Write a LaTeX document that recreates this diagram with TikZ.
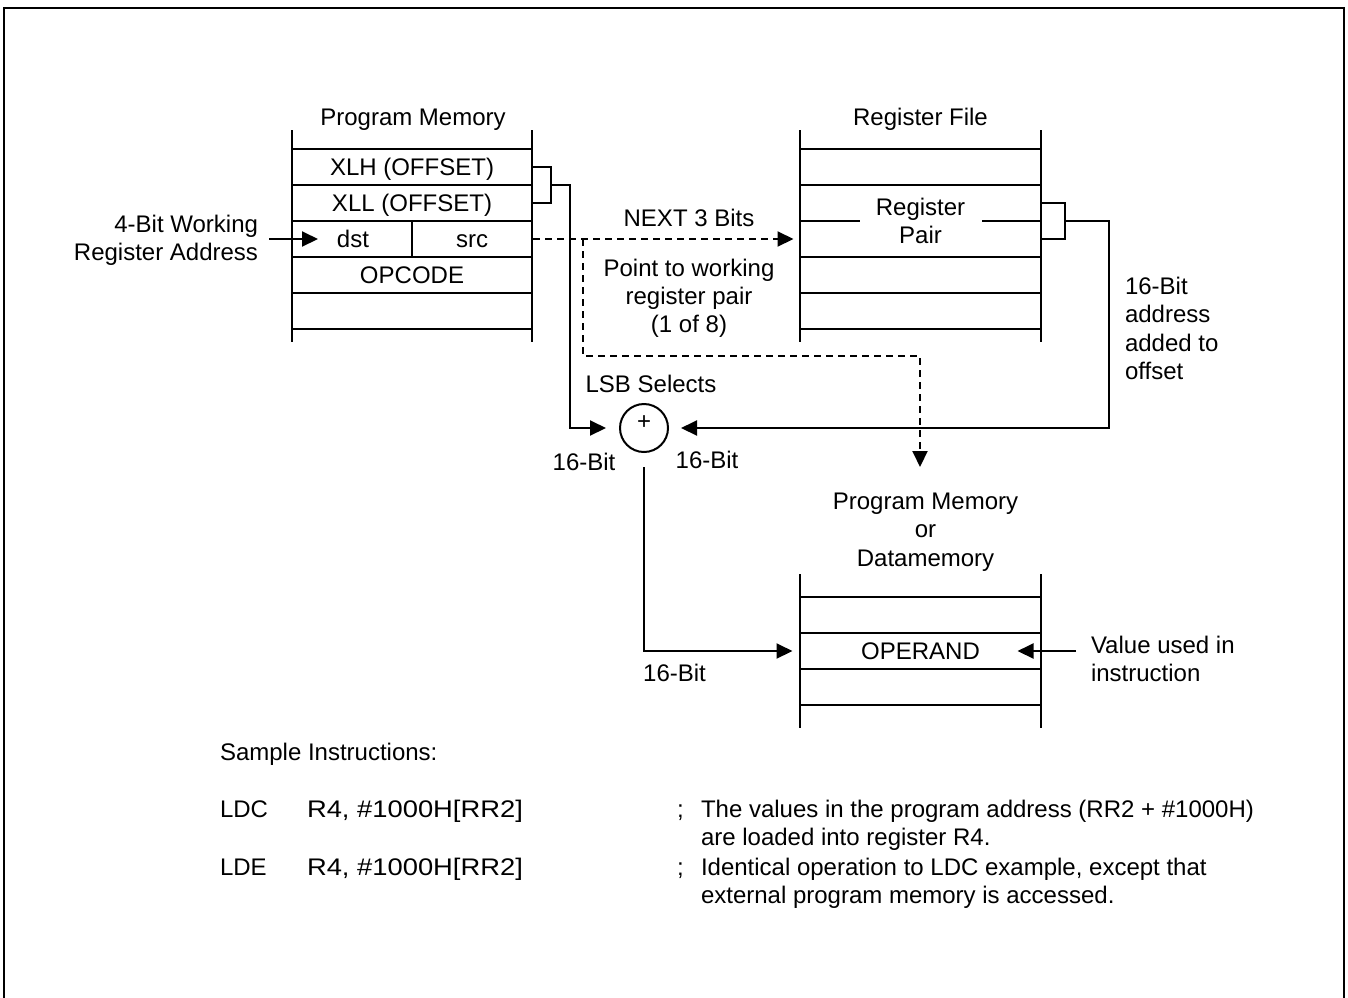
\documentclass[tikz,border=0pt]{standalone}
\usepackage{fontspec}
\setmainfont{Liberation Sans}
\usepackage{tikz}
\usetikzlibrary{arrows.meta, calc}

\begin{document}
\begin{tikzpicture}[x=0.5pt, y=-0.5pt, line width=1pt,
    font=\fontsize{12}{14}\selectfont,
    >={Triangle[length=8pt, width=7.5pt]},
    txt/.style={anchor=base, inner sep=0pt},
    lbl/.style={anchor=base west, inner sep=0pt},
    rlbl/.style={anchor=base east, inner sep=0pt},
    cell/.style={minimum width=120pt, minimum height=18pt, inner sep=0pt,
                 text height=8.6pt, text depth=0pt},
    half/.style={cell, minimum width=60pt},
    dsh/.style={dash pattern=on 3.5pt off 2.5pt}]
    \useasboundingbox (0,0) rectangle (1348,997);
    % frame
    \draw[line width=1.2pt] (4,1010) -- (4,8) -- (1344,8) -- (1344,1010);

    % program memory
    \node[txt] (pmem) at (413,125) {Program Memory};
    \draw (292,130) -- (292,342);
    \draw (532,130) -- (532,342);
    \foreach \y in {149,185,221,257,293,329}
        \draw (292,\y) -- (532,\y);
    \draw (412,221) -- (412,257);
    \node[cell] (xlh) at (412,167) {XLH (OFFSET)};
    \node[cell] (xll) at (412,203) {XLL (OFFSET)};
    \node[half] (dst) at (353,239) {dst};
    \node[half] (src) at (472,239) {src};
    \node[cell] (opcode) at (412,275) {OPCODE};

    % register file
    \node[txt] (rfile) at (920.5,125) {Register File};
    \draw (800,130) -- (800,342);
    \draw (1041,130) -- (1041,342);
    \foreach \y in {149,185,257,293,329}
        \draw (800,\y) -- (1041,\y);
    \draw (800,221) -- (860,221);
    \draw (982,221) -- (1041,221);
    \node[cell, minimum height=36pt] (rpair) at (920.5,221) {};
    \node[txt] (reg) at (920.5,215) {Register};
    \node[txt] (pair) at (920.5,243) {Pair};

    % data memory
    \node[txt] (dmem) at (925.5,509) {Program Memory};
    \node[txt] (dor) at (925.5,537.5) {or};
    \node[txt] (ddata) at (925.5,566) {Datamemory};
    \draw (800,574) -- (800,728);
    \draw (1041,574) -- (1041,728);
    \foreach \y in {597,633,669,705}
        \draw (800,\y) -- (1041,\y);
    \node[cell] (operand) at (920.5,651) {OPERAND};

    % adder
    \node[circle, draw, minimum size=24pt, inner sep=0pt] (add) at (644,428) {};
    \node[txt] (plus) at (644,429) {+};
    \node[txt] (lsb) at (651,392) {LSB Selects};
    \node[txt] (bitl) at (584,470) {16-Bit};
    \node[txt] (bitr) at (707,468) {16-Bit};
    \node[txt] (bitb) at (674.5,681) {16-Bit};

    % labels
    \node[rlbl] (waddr) at (259,232) {4-Bit Working};
    \node[rlbl] (waddr2) at (259,260) {Register Address};
    \node[txt] (next) at (689,226) {NEXT 3 Bits};
    \node[txt] (point) at (689,276) {Point to working};
    \node[txt] (point2) at (689,304) {register pair};
    \node[txt] (point3) at (689,332) {(1 of 8)};
    \node[lbl] (haddr) at (1124,294) {16-Bit};
    \node[lbl] (haddr2) at (1124,322.5) {address};
    \node[lbl] (haddr3) at (1124,351) {added to};
    \node[lbl] (haddr4) at (1124,379.5) {offset};
    \node[lbl] (value) at (1090,653) {Value used in};
    \node[lbl] (value2) at (1090,681) {instruction};

    % connectors
    \draw[->] ([xshift=5pt]waddr.east |- dst) -- ([xshift=13pt]dst.west);
    \draw (xlh.east) -- ++(18,0) |- (xll.east);
    \draw[->] ($(xlh.east)!0.5!(xll.east)+(18,0)$) -- ++(19,0)
        |- ([xshift=-6.5pt]add.west);
    \draw[dsh,->] (src.east) -- ([xshift=-3pt]src.east -| rpair.west);
    \coordinate (dtip) at (920,467);
    \draw[dsh,->] ([xshift=25pt]src.east) -- ++(0,117) -| (dtip);
    \draw ([yshift=9pt]rpair.east) -- ++(23,0) -- ++(0,36) -- ++(-23,0);
    \draw[->] ([xshift=11.5pt]rpair.east) -- ++(44,0)
        |- ([xshift=6pt]add.east);
    \draw[->] ([yshift=-7pt]add.south) |- ([xshift=-3.5pt]operand.west);
    \draw[->] ([xshift=-7pt]value.west |- operand) -- ([xshift=-12pt]operand.east);

    % sample instructions
    \node[lbl] (sample) at (219,760) {Sample Instructions:};
    \node[lbl] (ldc) at (219,817) {LDC};
    \node[lbl] (ldcop) at (306,817) {\scalebox{1.14}[1]{R4, \#1000H[RR2]}};
    \node[lbl] (ldcsc) at (676,817) {;};
    \node[lbl] (ldctx) at (700,817) {The values in the program address (RR2 + \#1000H)};
    \node[lbl] (ldctx2) at (700,845) {are loaded into register R4.};
    \node[lbl] (lde) at (219,875) {LDE};
    \node[lbl] (ldeop) at (306,875) {\scalebox{1.14}[1]{R4, \#1000H[RR2]}};
    \node[lbl] (ldesc) at (676,875) {;};
    \node[lbl] (ldetx) at (700,875) {Identical operation to LDC example, except that};
    \node[lbl] (ldetx2) at (700,903) {external program memory is accessed.};
\end{tikzpicture}
\end{document}
